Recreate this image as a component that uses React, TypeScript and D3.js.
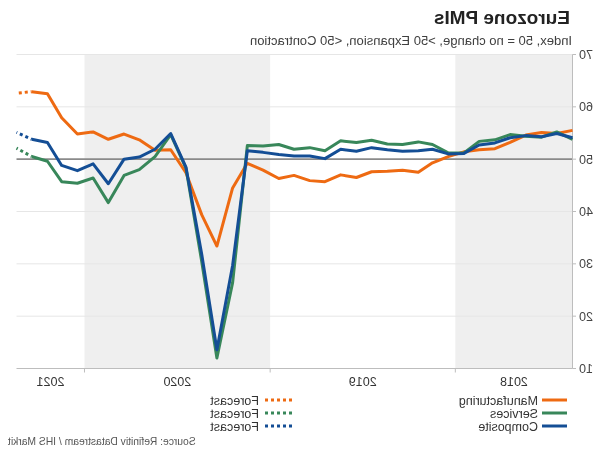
import React from "react";
import * as d3 from "d3";

const months: string[] = [
  "2018-05","2018-06","2018-07","2018-08","2018-09","2018-10","2018-11","2018-12",
  "2019-01","2019-02","2019-03","2019-04","2019-05","2019-06","2019-07","2019-08","2019-09","2019-10","2019-11","2019-12",
  "2020-01","2020-02","2020-03","2020-04","2020-05","2020-06","2020-07","2020-08","2020-09","2020-10","2020-11","2020-12",
  "2021-01","2021-02","2021-03","2021-04",
];
const forecastMonth = "2021-05";

const manufacturing: number[] = [
  55.5, 54.9, 55.1, 54.6, 53.2, 52.0, 51.8, 51.4,
  50.5, 49.3, 47.5, 47.9, 47.7, 47.6, 46.5, 47.0, 45.7, 45.9, 46.9, 46.3,
  47.9, 49.2, 44.5, 33.4, 39.4, 47.4, 51.8, 51.7, 53.7, 54.8, 53.8, 55.2,
  54.8, 57.9, 62.5, 62.9,
];
const services: number[] = [
  53.8, 55.2, 54.2, 54.4, 54.7, 53.7, 53.4, 51.2,
  51.2, 52.8, 53.3, 52.8, 52.9, 53.6, 53.2, 53.5, 51.6, 52.2, 51.9, 52.8,
  52.5, 52.6, 26.4, 12.0, 30.5, 48.3, 54.7, 50.5, 48.0, 46.9, 41.7, 46.4,
  45.4, 45.7, 49.6, 50.5,
];
const composite: number[] = [
  54.1, 54.9, 54.3, 54.5, 54.1, 53.1, 52.7, 51.1,
  51.0, 51.9, 51.6, 51.5, 51.8, 52.2, 51.5, 51.9, 50.1, 50.6, 50.6, 50.9,
  51.3, 51.6, 29.7, 13.6, 31.9, 48.5, 54.9, 51.9, 50.4, 50.0, 45.3, 49.1,
  47.8, 48.8, 53.2, 53.8,
];
const forecasts: number[] = [62.6, 52.1, 55.1];

const seriesNames = ["Manufacturing", "Services", "Composite"];
const seriesColors = ["#ee6a12", "#38875a", "#144e95"];
const yTicks = [10, 20, 30, 40, 50, 60, 70];
const years = [2018, 2019, 2020, 2021];
const shadedYears = [2018, 2020];

const toDate = (m: string) => {
  const [y, mo] = m.split("-").map(Number);
  return new Date(y, mo - 1, 15);
};

export default function App() {
  const W = 600, H = 450;
  const x = d3.scaleTime()
    .domain([toDate(months[0]), toDate(forecastMonth)])
    .range([27.5, 583.5]);
  const y = d3.scaleLinear().domain([10, 70]).range([368.5, 54.5]);
  const [d0, d1] = x.domain();
  const font = "'Liberation Sans', Arial, sans-serif";

  const allSeries = [manufacturing, services, composite];
  const line = d3.line<[Date, number]>().x((d) => x(d[0])).y((d) => y(d[1]));

  const yearSpan = (yr: number) => {
    const a = new Date(Math.max(+d0, +new Date(yr, 0, 1)));
    const b = new Date(Math.min(+d1, +new Date(yr + 1, 0, 1)));
    return [x(a), x(b)];
  };

  return (
    <svg
      width={W}
      height={H}
      style={{ position: "fixed", left: 0, top: 0, transform: "scaleX(-1)", background: "#fff" }}
      fontFamily={font}
    >
      <text x={30} y={24} fontSize={19} fontWeight="bold" fill="#222">Eurozone PMIs</text>
      <text x={28} y={45} fontSize={13} fill="#404040">Index, 50 = no change, &gt;50 Expansion, &lt;50 Contraction</text>

      {shadedYears.map((yr) => {
        const [a, b] = yearSpan(yr);
        return <rect key={yr} x={a} y={y(70)} width={b - a} height={y(10) - y(70)} fill="#efefef" />;
      })}

      {yTicks.filter((t) => t !== 10 && t !== 50).map((t) => (
        <line key={t} x1={27.5} x2={583.5} y1={y(t)} y2={y(t)} stroke="#e6e6e6" strokeWidth={1} />
      ))}
      <line x1={27.5} x2={583.5} y1={y(50)} y2={y(50)} stroke="#8a8a8a" strokeWidth={1.6} />

      <line x1={27.5} x2={27.5} y1={y(70)} y2={y(10)} stroke="#bdbdbd" />
      <line x1={27.5} x2={583.5} y1={y(10)} y2={y(10)} stroke="#bdbdbd" />
      {yTicks.map((t) => (
        <g key={t}>
          <line x1={24} x2={27.5} y1={y(t)} y2={y(t)} stroke="#bdbdbd" />
          <text x={21} y={y(t) + 4.5} fontSize={12.5} fill="#444" textAnchor="end">{t}</text>
        </g>
      ))}
      {years.slice(1).map((yr) => (
        <line key={yr} x1={x(new Date(yr, 0, 1))} x2={x(new Date(yr, 0, 1))} y1={y(10)} y2={y(10) + 4} stroke="#bdbdbd" />
      ))}
      {years.map((yr) => {
        const [a, b] = yearSpan(yr);
        return <text key={yr} x={(a + b) / 2} y={386} fontSize={12.5} fill="#333" textAnchor="middle">{yr}</text>;
      })}

      {allSeries.map((vals, i) => {
        const pts: [Date, number][] = vals.map((v, j) => [toDate(months[j]), v]);
        const last = pts[pts.length - 1];
        const fc: [Date, number][] = [last, [toDate(forecastMonth), forecasts[i]]];
        return (
          <g key={i}>
            <path d={line(pts) || ""} fill="none" stroke={seriesColors[i]} strokeWidth={3} strokeLinejoin="round" />
            <path d={line(fc) || ""} fill="none" stroke={seriesColors[i]} strokeWidth={3} strokeDasharray="3 3" strokeDashoffset={-4} />
          </g>
        );
      })}

      {seriesNames.map((n, i) => {
        const yy = 400 + i * 13;
        return (
          <g key={n}>
            <line x1={33} x2={58} y1={yy} y2={yy} stroke={seriesColors[i]} strokeWidth={3} />
            <text x={62} y={yy + 4.5} fontSize={12.5} fill="#333">{n}</text>
            <line x1={308} x2={338} y1={yy} y2={yy} stroke={seriesColors[i]} strokeWidth={3} strokeDasharray="3 3" />
            <text x={341} y={yy + 4.5} fontSize={12.5} fill="#333">Forecast</text>
          </g>
        );
      })}

      <text x={592} y={445} fontSize={10.3} fill="#555" textAnchor="end">Source: Refinitiv Datastream / IHS Markit</text>
    </svg>
  );
}
